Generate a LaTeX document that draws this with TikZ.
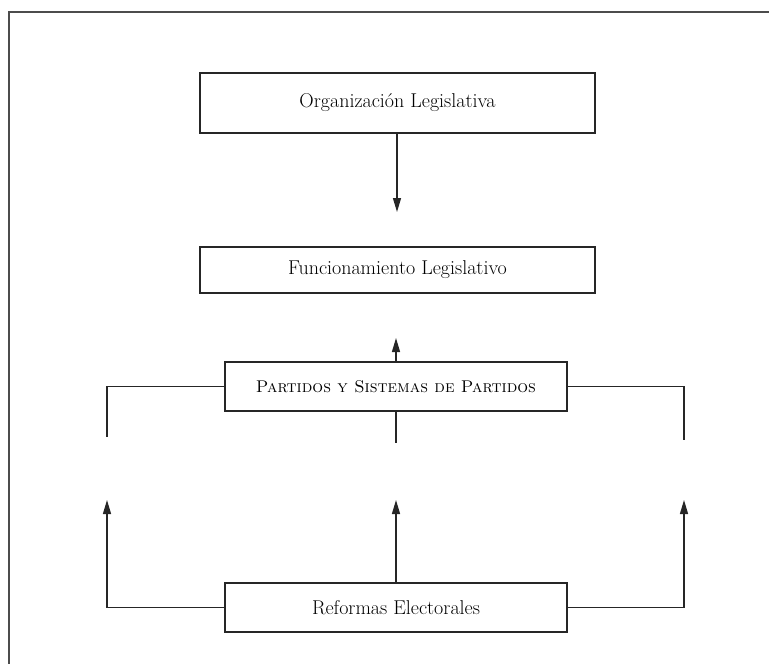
\documentclass[tikz,border=0pt]{standalone}
\usetikzlibrary{arrows.meta}
\begin{document}
\begin{tikzpicture}[x=1pt,y=-1pt,
  box/.style={draw=black!85,line width=1.3pt,inner sep=0pt,font=\fontsize{20}{24}\selectfont},
  conn/.style={draw=black!85,line width=1.3pt},
  arr/.style={conn,-{Triangle[length=14pt,width=8pt]}},
  frame/.style={draw=black!70,line width=1.8pt}]
\useasboundingbox (0,0) rectangle (769,664);
\draw[frame] (9,664) -- (9,12) -- (769,12);
\node[box,minimum width=395pt,minimum height=60pt] (org) at (397.5,103) {Organización Legislativa};
\node[box,minimum width=395pt,minimum height=46pt] (func) at (397.5,270) {Funcionamiento Legislativo};
\node[box,minimum width=342pt,minimum height=49pt,font=\fontsize{17}{20}\selectfont] (part) at (396,386.5) {\textsc{Partidos y Sistemas de Partidos}};
\node[box,minimum width=342pt,minimum height=49pt] (ref) at (396,607.5) {Reformas Electorales};
\coordinate (t1) at (397,212);
\coordinate (t2) at (396,338);
\coordinate (pl) at (107,437);
\coordinate (pr) at (684,440);
\coordinate (pc) at (396,443);
\coordinate (al) at (107,500);
\coordinate (ac) at (396,500);
\coordinate (ar) at (684,500);
\draw[arr] (org.south -| t1) -- (t1);
\draw[arr] (part.north) -- (t2);
\draw[conn] (part.west) -| (pl);
\draw[conn] (part.east) -| (pr);
\draw[conn] (part.south) -- (pc);
\draw[arr] (ref.west) -| (al);
\draw[arr] (ref.north) -- (ac);
\draw[arr] (ref.east) -| (ar);
\end{tikzpicture}
\end{document}
